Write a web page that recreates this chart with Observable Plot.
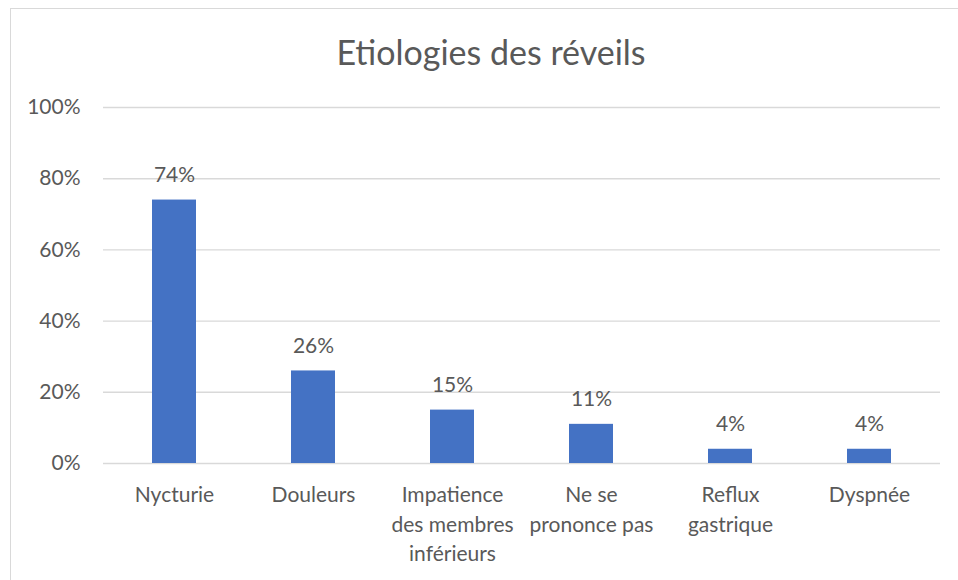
<!DOCTYPE html>
<html>
<head>
<meta charset="utf-8">
<script src="https://cdn.jsdelivr.net/npm/d3@7"></script>
<script src="https://cdn.jsdelivr.net/npm/@observablehq/plot@0.6"></script>
<style>
  html, body { margin: 0; padding: 0; background: #fff; }
  body { width: 958px; height: 580px; position: relative; overflow: hidden; font-family: Lato, "Open Sans", sans-serif; }
  #frame { position: absolute; left: 10px; top: 8px; width: 962px; height: 620px; border: 1.5px solid #d9d9d9; box-sizing: border-box; }
  #title { position: absolute; left: 10px; width: 962px; top: 28px; text-align: center; font-size: 34px; color: #595959; line-height: 48px; }
  #chart { position: absolute; left: 0; top: 0; }
</style>
</head>
<body>
<div id="frame"></div>
<div id="title">Etiologies des réveils</div>
<div id="chart"></div>
<script>
const categories = ["Nycturie", "Douleurs", "Impatience des membres inférieurs", "Ne se prononce pas", "Reflux gastrique", "Dyspnée"];
const tickLabels = ["Nycturie", "Douleurs", "Impatience\ndes membres\ninférieurs", "Ne se\nprononce pas", "Reflux\ngastrique", "Dyspnée"];
const values = [0.74, 0.26, 0.15, 0.11, 0.04, 0.04];
const yTicks = [0, 0.2, 0.4, 0.6, 0.8, 1.0];

const data = categories.map((c, i) => ({category: c, value: values[i]}));
const labelOf = new Map(categories.map((c, i) => [c, tickLabels[i]]));
const pct = d3.format(".0%");

const chart = Plot.plot({
  width: 958,
  height: 580,
  marginTop: 107,
  marginBottom: 117,
  marginLeft: 103,
  marginRight: 18,
  style: {fontFamily: "Lato, 'Open Sans', sans-serif", fontSize: "21px", color: "#595959", background: "transparent", overflow: "visible"},
  x: {domain: categories, paddingInner: 0.685, paddingOuter: 0.3425, label: null},
  y: {domain: [0, 1], label: null},
  marks: [
    Plot.gridY(yTicks, {stroke: "#d9d9d9", strokeOpacity: 1, strokeWidth: 1.4}),
    Plot.axisY(yTicks, {tickSize: 0, tickPadding: 23, tickFormat: pct, fontSize: 21, fill: "#595959", label: null}),
    Plot.axisX({tickSize: 0, tickPadding: 18, tickFormat: d => labelOf.get(d), fontSize: 21, fill: "#595959", lineHeight: 1.4, label: null}),
    Plot.barY(data, {x: "category", y: "value", fill: "#4472C4"}),
    Plot.text(data, {x: "category", y: "value", text: d => pct(d.value), dy: -25, fontSize: 21, fill: "#595959", lineAnchor: "middle"})
  ]
});
document.getElementById("chart").appendChild(chart);
</script>
</body>
</html>
